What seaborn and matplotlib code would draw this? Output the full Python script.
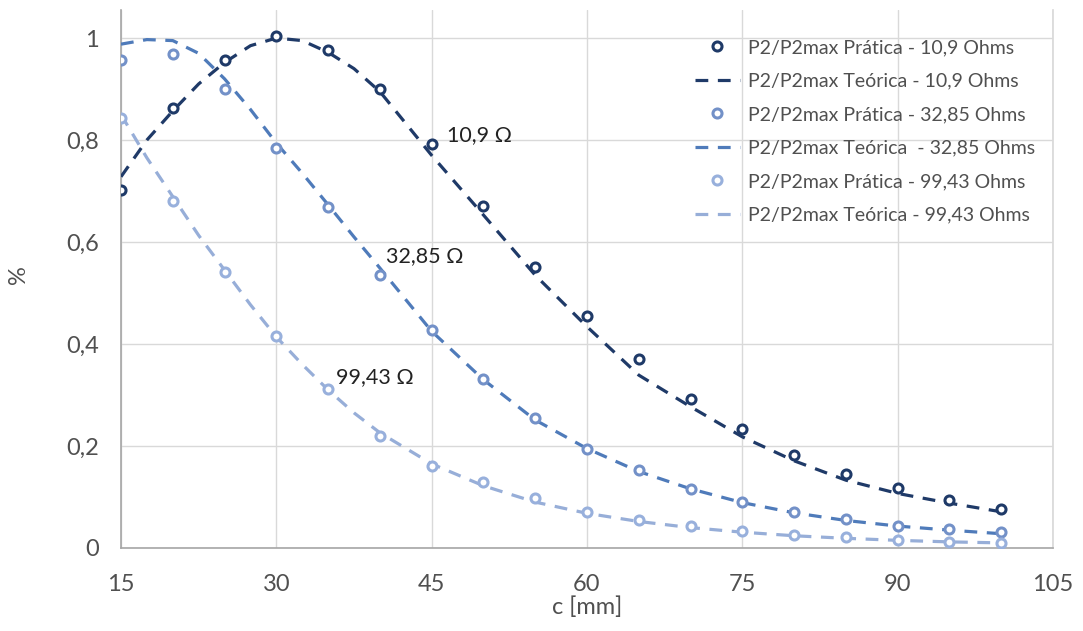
import matplotlib
matplotlib.use("Agg")
import matplotlib.pyplot as plt
import seaborn as sns
import pandas as pd
import numpy as np

# ---- data ----
x_prat = [15, 20, 25, 30, 35, 40, 45, 50, 55, 60, 65, 70, 75, 80, 85, 90, 95, 100]
prat_109 = [0.702, 0.862, 0.957, 1.004, 0.976, 0.900, 0.792, 0.671, 0.552, 0.454, 0.371,
            0.293, 0.233, 0.183, 0.146, 0.118, 0.094, 0.076]
prat_3285 = [0.956, 0.968, 0.900, 0.785, 0.669, 0.535, 0.427, 0.331, 0.254, 0.195, 0.152,
             0.116, 0.091, 0.070, 0.056, 0.044, 0.037, 0.031]
prat_9943 = [0.843, 0.680, 0.541, 0.416, 0.312, 0.220, 0.161, 0.129, 0.098, 0.071, 0.055,
             0.044, 0.033, 0.025, 0.021, 0.016, 0.012, 0.009]

x_teo = [15, 17.5, 20, 22.5, 25, 27.5, 30, 32.5, 35, 37.5, 40, 45, 50, 55, 60, 65, 70, 75,
         80, 85, 90, 95, 100]
teo_109 = [0.728, 0.800, 0.857, 0.910, 0.952, 0.985, 1.000, 0.995, 0.972, 0.940, 0.895,
           0.770, 0.653, 0.535, 0.434, 0.339, 0.277, 0.218, 0.171, 0.133, 0.107, 0.088, 0.071]
teo_3285 = [0.988, 0.997, 0.995, 0.970, 0.920, 0.860, 0.794, 0.735, 0.673, 0.610, 0.549,
            0.425, 0.330, 0.251, 0.195, 0.150, 0.116, 0.089, 0.069, 0.054, 0.043, 0.035, 0.028]
teo_9943 = [0.850, 0.765, 0.689, 0.613, 0.545, 0.477, 0.414, 0.360, 0.310, 0.265, 0.226,
            0.165, 0.122, 0.090, 0.068, 0.052, 0.040, 0.031, 0.024, 0.019, 0.015, 0.012, 0.010]

labels_prat = ["P2/P2max Prática - 10,9 Ohms", "P2/P2max Prática - 32,85 Ohms",
               "P2/P2max Prática - 99,43 Ohms"]
labels_teo = ["P2/P2max Teórica - 10,9 Ohms", "P2/P2max Teórica  - 32,85 Ohms",
              "P2/P2max Teórica - 99,43 Ohms"]
annot_text = ["10,9 Ω", "32,85 Ω", "99,43 Ω"]
annot_pos = [(46.5, 0.81), (40.6, 0.573), (35.8, 0.335)]

x_ticks = [15, 30, 45, 60, 75, 90, 105]
y_ticks = [0, 0.2, 0.4, 0.6, 0.8, 1.0]
y_tick_labels = ["0", "0,2", "0,4", "0,6", "0,8", "1"]

line_colors = ["#1F3A68", "#4F7BBA", "#97AED8"]
marker_colors = ["#1F3A68", "#7391C8", "#98B0DC"]

# ---- plot ----
sns.set_theme(style="white")
plt.rcParams["font.family"] = ["Lato", "DejaVu Sans"]

fig = plt.figure(figsize=(10.83, 6.31), dpi=100)
ax = fig.add_axes([121 / 1083, 1 - 548 / 631, (1053 - 121) / 1083, (548 - 10) / 631])

prat_series = [prat_109, prat_3285, prat_9943]
teo_series = [teo_109, teo_3285, teo_9943]

handles = []
for i in range(3):
    dfp = pd.DataFrame({"x": x_prat, "y": prat_series[i]})
    dft = pd.DataFrame({"x": x_teo, "y": teo_series[i]})
    sns.lineplot(data=dft, x="x", y="y", ax=ax, color=line_colors[i], lw=2.3,
                 dashes=False, label=labels_teo[i], zorder=3)
    ln = ax.lines[-1]
    ln.set_linestyle((0, (4, 3)))
    ax.plot(dfp["x"], dfp["y"], linestyle="none", marker="o", ms=6.5, mew=2.2,
            mfc="white", mec=marker_colors[i], label=labels_prat[i], zorder=4)
    handles.append(ax.lines[-1])
    handles.append(ln)

for t, (xx, yy) in zip(annot_text, annot_pos):
    ax.text(xx, yy, t, fontsize=15.5, color="#222222", ha="left", va="center")

ax.set_xlim(15, 105)
ax.set_ylim(0, 1.055)
ax.set_xticks(x_ticks)
ax.set_yticks(y_ticks)
ax.set_yticklabels(y_tick_labels)
ax.tick_params(axis="x", labelsize=17, colors="#505050", length=0, pad=19)
ax.tick_params(axis="y", labelsize=17, colors="#505050", length=4, color="#A0A0A0",
               width=1, pad=12)
ax.grid(True, color="#D9D9D9", lw=1)
ax.spines["top"].set_visible(False)
ax.spines["right"].set_color("#D9D9D9")
ax.spines["left"].set_color("#A6A6A6")
ax.spines["bottom"].set_color("#A6A6A6")
ax.spines["left"].set_linewidth(1.2)
ax.spines["bottom"].set_linewidth(1.2)

ax.set_xlabel("c [mm]", fontsize=17, color="#505050")
ax.xaxis.set_label_coords(0.5, (548 - 607) / 538, transform=ax.transAxes)
ax.xaxis.label.set_va("center")
ax.set_ylabel("%", fontsize=17, color="#505050")
ax.yaxis.set_label_coords((18 - 121) / 932, (548 - 275) / 538, transform=ax.transAxes)
ax.yaxis.label.set_va("center")

leg = ax.legend(handles=handles, labels=[h.get_label() for h in handles],
                loc="upper left", bbox_to_anchor=(695 / 1083, 1 - 39 / 631),
                bbox_transform=fig.transFigure, frameon=False, borderpad=0,
                borderaxespad=0, fontsize=14, labelcolor="#505050", handlelength=2.3,
                handletextpad=0.45, labelspacing=0.85)

fig.savefig("out.png", dpi=100)
